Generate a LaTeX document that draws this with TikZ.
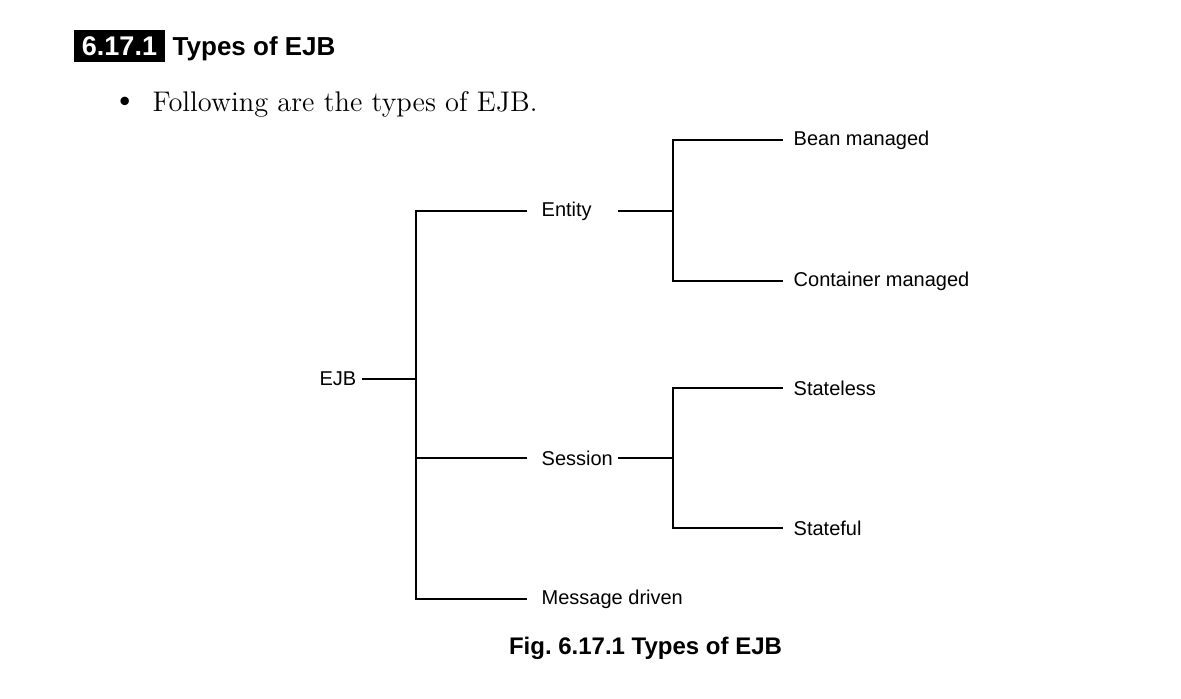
\documentclass[tikz,border=0pt]{standalone}
\usepackage{fontspec}
\setsansfont{Liberation Sans}
\usetikzlibrary{calc}

\begin{document}
\begin{tikzpicture}[x=0.5pt, y=-0.5pt, line width=0.7pt,
  lbl/.style={font=\sffamily\fontsize{10}{12}\selectfont},
  leaf/.style={lbl, anchor=west, inner xsep=5pt, inner ysep=1pt},
  mid/.style={lbl, anchor=west, inner xsep=7pt, inner ysep=1pt, text width=31pt, align=left}]
\useasboundingbox (0,0) rectangle (1181,698);
\node[fill=black, text=white, font=\sffamily\bfseries\fontsize{13.5}{15}\selectfont, minimum width=45.5pt, minimum height=16pt, inner sep=0pt] (num) at (119.5,46) {6.17.1};
\node[anchor=base west, inner sep=0pt, font=\sffamily\bfseries\fontsize{13}{15}\selectfont] (title) at (172,55) {Types of EJB};
\node[inner sep=0pt, font=\fontsize{19}{20}\selectfont] (dot) at (125,104) {\textbullet};
\node[anchor=base west, inner sep=0pt, font=\fontsize{14.2}{16}\selectfont] (intro) at (152,111) {Following are the types of EJB.};

\node[lbl, anchor=east, inner xsep=2.5pt] (ejb) at (362,379) {EJB};
\node[mid] (ent) at (527,211) {Entity};
\node[mid] (ses) at (527,458) {Session};
\node[leaf, inner xsep=7pt] (msg) at (527,599) {Message driven};
\node[leaf] (bean) at (783,140) {Bean managed};
\node[leaf] (cont) at (783,281) {Container managed};
\node[leaf] (sless) at (783,388) {Stateless};
\node[leaf] (sful) at (783,528) {Stateful};

\coordinate (top) at (416,211);
\coordinate (bot) at (416,599);
\coordinate (ej) at (673,211);
\coordinate (sj) at (673,458);

\draw (ejb) -- (ejb -| top);
\draw (ent) -- (top) -- (ses -| top);
\draw (ses) -- (ses -| top);
\draw[line width=1pt] (ses -| top) -- (bot) -- (msg);
\draw (ent) -- (ej);
\draw (bean) -| (ej) |- (cont);
\draw (ses) -- (sj);
\draw (sless) -| (sj) |- (sful);

\node[font=\sffamily\bfseries\fontsize{12}{14}\selectfont] (cap) at (645.5,648) {Fig.\ 6.17.1 Types of EJB};
\end{tikzpicture}
\end{document}
